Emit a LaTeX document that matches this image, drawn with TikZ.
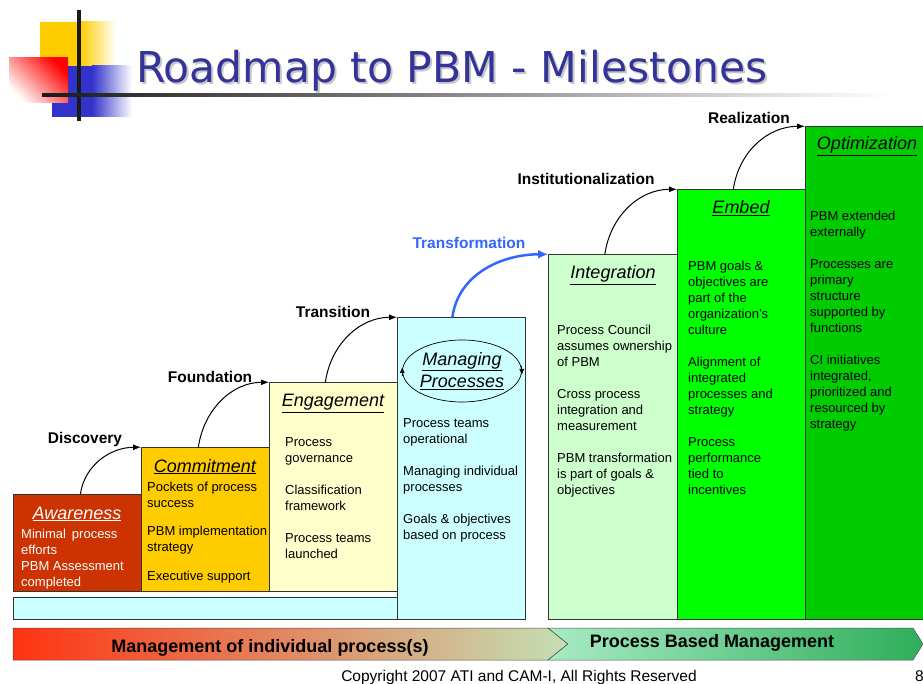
\documentclass[tikz,border=0pt]{standalone}
\usepackage{fontspec}
\setmainfont{Liberation Sans}
\newfontfamily\titlefont{DejaVu Sans}
\usepackage{tikz}
\usetikzlibrary{shapes.geometric}
\usetikzlibrary{arrows.meta}
\tikzset{>=latex}
\definecolor{titleblue}{HTML}{333399}
\definecolor{logoyellow}{HTML}{FFCC00}
\definecolor{logoblue}{HTML}{3333CC}
\definecolor{awarered}{HTML}{CC3300}
\definecolor{commityellow}{HTML}{FFCC00}
\definecolor{engagepale}{HTML}{FFFFCC}
\definecolor{managecyan}{HTML}{CCFFFF}
\definecolor{integgreen}{HTML}{CCFFCC}
\definecolor{embedgreen}{HTML}{00FF00}
\definecolor{optimgreen}{HTML}{00CC00}
\definecolor{transblue}{HTML}{3366FF}
\definecolor{barred}{HTML}{FF3311}
\definecolor{barpale}{HTML}{C4E0B4}
\definecolor{barmint}{HTML}{A8EBC4}
\definecolor{bargreen}{HTML}{2EAE5A}
\tikzset{
    stagebox/.style={draw=black!80, line width=.7pt, anchor=south west, inner sep=0, minimum width=128pt},
    stagename/.style={font=\fontsize{18}{22}\selectfont\itshape, anchor=base, inner sep=0},
    stagetext/.style={font=\fontsize{13}{16}\selectfont, align=left, anchor=north west, inner sep=0},
    steplabel/.style={font=\fontsize{15.5}{18}\selectfont\bfseries, anchor=base, inner sep=0},
    steparrow/.style={-{Latex[length=8pt, width=6pt]}, line width=1pt},
    cyclearrow/.style={-{Latex[length=6pt, width=5pt]}, line width=.7pt},
    bartext/.style={font=\fontsize{18}{20}\selectfont\bfseries, inner sep=0}
}

\begin{document}
\begin{tikzpicture}[x=1pt, y=1pt]
    \useasboundingbox (0, 0) rectangle (923, 683);
    % logo
    \fill[logoyellow](40, 616)rectangle(80, 661);
    \shade[left color=logoyellow, right color=white](80, 616)rectangle(116, 661);
    \fill[logoblue](52, 566)rectangle(92, 617);
    \shade[left color=logoblue, right color=white](92, 566)rectangle(132, 617);
    \shade[top color=red, middle color=red!45, bottom color=white, shading angle=-45](9, 580)rectangle(68, 625);
    \fill[black!90](77, 562)rectangle(80.5, 673);
    \shade[left color=black!90, right color=white](42, 586)rectangle(890, 589.5);
    % title
    \node[font=\titlefont\fontsize{42.5}{50}\selectfont, text=black!22, anchor=base west, inner sep=0](titleshadow) at (138, 598){Roadmap to PBM - Milestones};
    \node[font=\titlefont\fontsize{42.5}{50}\selectfont, text=titleblue, anchor=base west, inner sep=0](title) at (136, 600){Roadmap to PBM - Milestones};

    % stages
    \node[stagebox, fill=managecyan, minimum width=512pt, minimum height=22pt](bar) at (13, 63){};
    \node[stagebox, fill=awarered, minimum height=97pt](aware) at (13, 91){};
    \node[stagebox, fill=commityellow, minimum height=144pt](commit) at (141, 91){};
    \node[stagebox, fill=engagepale, minimum height=209pt](engage) at (269, 91){};
    \node[stagebox, fill=managecyan, minimum height=302pt](manage) at (397, 63){};
    \node[stagebox, fill=integgreen, minimum width=129pt, minimum height=365pt](integ) at (548, 63){};
    \node[stagebox, fill=embedgreen, minimum height=430pt](embed) at (677, 63){};
    \node[stagebox, fill=optimgreen, minimum width=122pt, minimum height=493pt](optim) at (805, 63){};

    \node[stagename, text=white](awarename) at (77, 164){\underline{Awareness}};
    \node[stagename](commitname) at (205, 211){\underline{Commitment}};
    \node[stagename](engagename) at (333, 276){\underline{Engagement}};
    \node[draw, ellipse, line width=.7pt, minimum width=116pt, minimum height=62pt, inner sep=0, align=center, font=\fontsize{18}{22}\selectfont\itshape](manproc) at (462, 312){\underline{Managing}\\\underline{Processes}};
    \draw[cyclearrow]([yshift=-5pt]manproc.west)--([yshift=4pt]manproc.west);
    \draw[cyclearrow]([yshift=5pt]manproc.east)--([yshift=-4pt]manproc.east);
    \node[stagename](integname) at (613, 404){\underline{Integration}};
    \node[stagename](embedname) at (741, 469){\underline{Embed}};
    \node[stagename](optimname) at (867, 533){\underline{Optimization}};

    \node[stagetext, text=white](awaretext) at (21, 154.5){Minimal\hspace{6pt}process\\efforts\\PBM Assessment\\completed};
    \node[stagetext](committext) at (147, 201.5){Pockets of process\\success\\[12pt]PBM implementation\\strategy\\[13pt]Executive support};
    \node[stagetext](engagetext) at (285, 245.5){Process\\governance\\[16pt]Classification\\framework\\[16pt]Process teams\\launched};
    \node[stagetext](managetext) at (403, 264.5){Process teams\\operational\\[16pt]Managing individual\\processes\\[16pt]Goals \& objectives\\based on process};
    \node[stagetext](integtext) at (557, 358.5){Process Council\\assumes ownership\\of PBM\\[16pt]Cross process\\integration and\\measurement\\[16pt]PBM transformation\\is part of goals \&\\objectives};
    \node[stagetext](embedtext) at (688, 422.5){PBM goals \&\\objectives are\\part of the\\organization’s\\culture\\[16pt]Alignment of\\integrated\\processes and\\strategy\\[16pt]Process\\performance\\tied to\\incentives};
    \node[stagetext](optimtext) at (810, 472.5){PBM extended\\externally\\[16pt]Processes are\\primary\\structure\\supported by\\functions\\[16pt]CI initiatives\\integrated,\\prioritized and\\resourced by\\strategy};

    % steps between stages
    \node[steplabel](discovery) at (85, 239.5){Discovery};
    \node[steplabel](foundation) at (210, 300.5){Foundation};
    \node[steplabel](transition) at (333, 365.5){Transition};
    \node[steplabel, text=transblue](transformation) at (469, 434.5){Transformation};
    \node[steplabel](institution) at (586, 498.5){Institutionalization};
    \node[steplabel](realization) at (749, 559.5){Realization};
    \draw[steparrow]([xshift=3pt]aware.north) to[out=82, in=180] (commit.north west);
    \draw[steparrow]([xshift=-7pt]commit.north) to[out=82, in=180] (engage.north west);
    \draw[steparrow]([xshift=-8pt]engage.north) to[out=82, in=180] (manage.north west);
    \draw[-{Latex[length=10pt, width=9pt]}, line width=2.5pt, transblue]([xshift=-9pt]manage.north) to[out=82, in=180] (integ.north west);
    %\draw[steparrow](integ.north)--(embed.north west);
    \draw[steparrow]([xshift=-8pt]integ.north) to[out=82, in=180] (embed.north west);
    \draw[steparrow]([xshift=-8pt]embed.north) to[out=82, in=180] (optim.north west);

    % bottom arrow bar
    \shadedraw[left color=barred, right color=barpale, draw=black!70, line width=.5pt](13, 23)--(548, 23)--(568, 39)--(548, 55)--(13, 55)--cycle;
    \shadedraw[left color=barmint, right color=bargreen, draw=black!70, line width=.5pt](548, 23)--(913, 23)--(923, 39)--(913, 55)--(548, 55)--(568, 39)--cycle;
    \node[bartext](indiv) at (270, 35){Management of individual process(s)};
    \node[bartext](pbm) at (712, 40){Process Based Management};

    \node[font=\fontsize{15.5}{18}\selectfont, anchor=base, inner sep=0](copyright) at (519, 2){Copyright 2007 ATI and CAM-I, All Rights Reserved};
    \node[font=\fontsize{15.5}{18}\selectfont, anchor=base west, inner sep=0](page) at (915, 2){8};
\end{tikzpicture}
\end{document}
